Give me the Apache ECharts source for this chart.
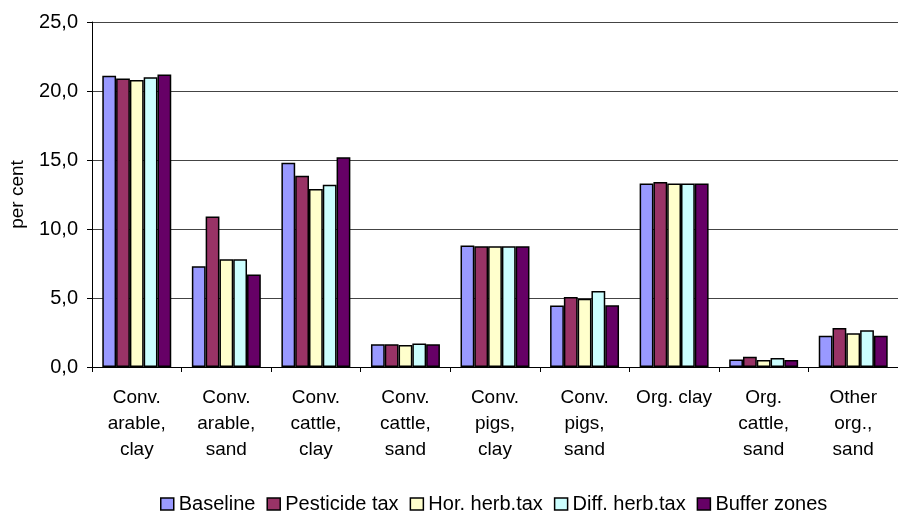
<!DOCTYPE html>
<html>
<head>
<meta charset="utf-8">
<script src="https://cdn.jsdelivr.net/npm/echarts@6/dist/echarts.min.js"></script>
<style>html,body{margin:0;padding:0;background:#fff;}#c{width:898px;height:511px;}</style>
</head>
<body>
<div id="c"></div>
<script>
const categories = ["Conv.\narable,\nclay","Conv.\narable,\nsand","Conv.\ncattle,\nclay","Conv.\ncattle,\nsand","Conv.\npigs,\nclay","Conv.\npigs,\nsand","Org. clay","Org.\ncattle,\nsand","Other\norg.,\nsand"];
const seriesNames = ["Baseline","Pesticide tax","Hor. herb.tax","Diff. herb.tax","Buffer zones"];
const baseline     = [21.1, 7.3, 14.8, 1.65, 8.8, 4.45, 13.3, 0.55, 2.27];
const pesticideTax = [20.9, 10.9, 13.85, 1.65, 8.75, 5.08, 13.4, 0.75, 2.83];
const horHerbTax   = [20.8, 7.8, 12.9, 1.6, 8.75, 4.94, 13.3, 0.5, 2.44];
const diffHerbTax  = [21.0, 7.8, 13.2, 1.7, 8.75, 5.5, 13.3, 0.65, 2.66];
const bufferZones  = [21.2, 6.7, 15.2, 1.65, 8.75, 4.47, 13.3, 0.5, 2.27];
const yTicks = {min: 0, max: 25, interval: 5};

const colors = ["#9999FF","#993366","#FFFFCC","#CCFFFF","#660066"];
const values = [baseline, pesticideTax, horHerbTax, diffHerbTax, bufferZones];
const font = "Liberation Sans, Arial, sans-serif";

const chart = echarts.init(document.getElementById('c'), null, {renderer: 'canvas'});
chart.setOption({
  animation: false,
  backgroundColor: '#fff',
  grid: {left: 92, top: 22, bottom: 144, right: -6, containLabel: false},
  legend: {
    data: seriesNames,
    left: 160, top: 494,
    padding: 0,
    itemWidth: 13, itemHeight: 12, itemGap: 11,
    icon: 'rect',
    itemStyle: {borderColor: '#000', borderWidth: 1.5},
    textStyle: {fontFamily: font, fontSize: 20, color: '#000', padding: [0,0,0,0]}
  },
  xAxis: {
    type: 'category',
    data: categories,
    axisLine: {lineStyle: {color: '#000', width: 1}},
    axisTick: {show: true, alignWithLabel: false, length: 5, lineStyle: {color: '#000'}},
    axisLabel: {fontFamily: font, fontSize: 19, color: '#000', lineHeight: 26, margin: 18, interval: 0}
  },
  yAxis: {
    type: 'value',
    min: yTicks.min, max: yTicks.max, interval: yTicks.interval,
    name: 'per cent', nameLocation: 'middle', nameGap: 65, nameRotate: 90,
    nameTextStyle: {fontFamily: font, fontSize: 19, color: '#000'},
    axisLine: {show: true, lineStyle: {color: '#000', width: 1}},
    axisTick: {show: true, length: 5, lineStyle: {color: '#000'}},
    axisLabel: {fontFamily: font, fontSize: 20, color: '#000', margin: 14,
      formatter: v => v.toFixed(1).replace('.', ',')},
    splitLine: {show: true, lineStyle: {color: '#444', width: 1}}
  },
  series: seriesNames.map((n, i) => ({
    name: n, type: 'bar', data: values[i],
    barGap: '0%', barCategoryGap: '23%',
    itemStyle: {color: colors[i], borderColor: '#000', borderWidth: 1.5}
  }))
});
</script>
</body>
</html>
